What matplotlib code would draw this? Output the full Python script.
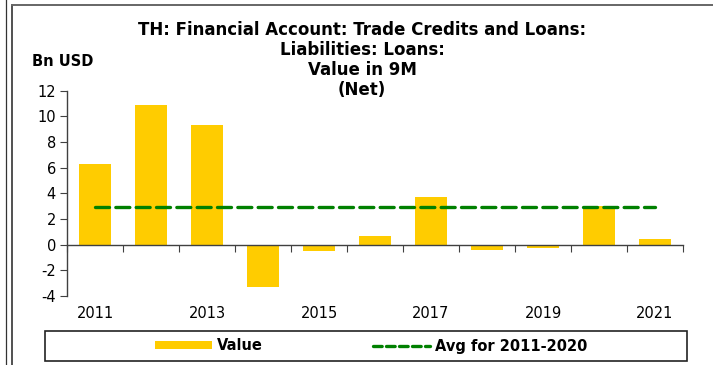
import numpy as np
import matplotlib.pyplot as plt
from matplotlib.lines import Line2D
from matplotlib.patches import Rectangle, Patch

plt.rcParams['font.family'] = ['DejaVu Sans']

years = ['2011', '2012', '2013', '2014', '2015', '2016', '2017', '2018', '2019', '2020', '2021']
values = [6.3, 10.86, 9.32, -3.3, -0.52, 0.7, 3.72, -0.45, -0.26, 3.05, 0.47]
avg_value = 2.94
yticks = [-4, -2, 0, 2, 4, 6, 8, 10, 12]

W, H = 713, 365
fig = plt.figure(figsize=(W / 100, H / 100), dpi=100)
ax = fig.add_axes([67 / W, 1 - 296 / H, 616 / W, 205.3 / H])

x = np.arange(len(years))
bar_color = '#FFCC00'
avg_color = '#008000'

ax.bar(x, values, width=0.58, color=bar_color, zorder=2)
ax.plot([x[0], x[-1]], [avg_value, avg_value], color=avg_color, lw=2.4,
        dashes=(4.2, 1.9), dash_capstyle='round', zorder=3)

ax.set_xlim(-0.5, len(years) - 0.5)
ax.set_ylim(-4, 12)
ax.set_yticks(yticks)
ax.set_yticklabels([str(v) for v in yticks], fontsize=10.5)

# x axis sits on zero, ticks between categories
ax.spines['bottom'].set_position(('data', 0))
ax.spines['top'].set_visible(False)
ax.spines['right'].set_visible(False)
for s in ('left', 'bottom'):
    ax.spines[s].set_color('#404040')
    ax.spines[s].set_linewidth(1)
ax.set_xticks(np.arange(len(years) + 1) - 0.5)
ax.set_xticklabels([])
ax.tick_params(axis='x', direction='out', length=5, color='#404040')
ax.tick_params(axis='y', direction='out', length=5, color='#404040', pad=3)

for i, yr in enumerate(years):
    if i % 2 == 0:
        ax.text(i, -5.4, yr, ha='center', va='center', fontsize=10.5, clip_on=False)

fig.text(0.508, 1 - 21 / H,
         'TH: Financial Account: Trade Credits and Loans:\nLiabilities: Loans:\nValue in 9M\n(Net)',
         ha='center', va='top', fontsize=12, fontweight='bold', linespacing=1.15)
fig.text(32 / W, 1 - 61 / H, 'Bn USD', ha='left', va='center', fontsize=10.5, fontweight='bold')

# legend box
fig.patches.append(Rectangle((45 / W, 1 - 361 / H), 642 / W, 30 / H, transform=fig.transFigure,
                             fill=False, edgecolor='#222222', lw=1.2))
handles = [Patch(facecolor=bar_color, edgecolor='none'),
           Line2D([], [], color=avg_color, lw=2.4, dashes=(2.6, 1.3), dash_capstyle='round')]
fig.legend(handles, ['Value', 'Avg for 2011-2020'], loc='center',
           bbox_to_anchor=(371 / W, 1 - 346 / H), ncol=2, frameon=False,
           prop={'weight': 'bold', 'size': 10.5}, handlelength=3.9, handleheight=0.5,
           handletextpad=0.35, columnspacing=7.55)

# outer frame
fig.lines.append(Line2D([5.5 / W, 5.5 / W], [0, 1], transform=fig.transFigure, color='#333333', lw=0.9))
fig.lines.append(Line2D([11.5 / W, 11.5 / W], [0, 1 - 5 / H], transform=fig.transFigure, color='#333333', lw=1.2))
fig.lines.append(Line2D([11.5 / W, 1], [1 - 5 / H, 1 - 5 / H], transform=fig.transFigure, color='#666666', lw=1.4))

fig.savefig('out.png', dpi=100)
